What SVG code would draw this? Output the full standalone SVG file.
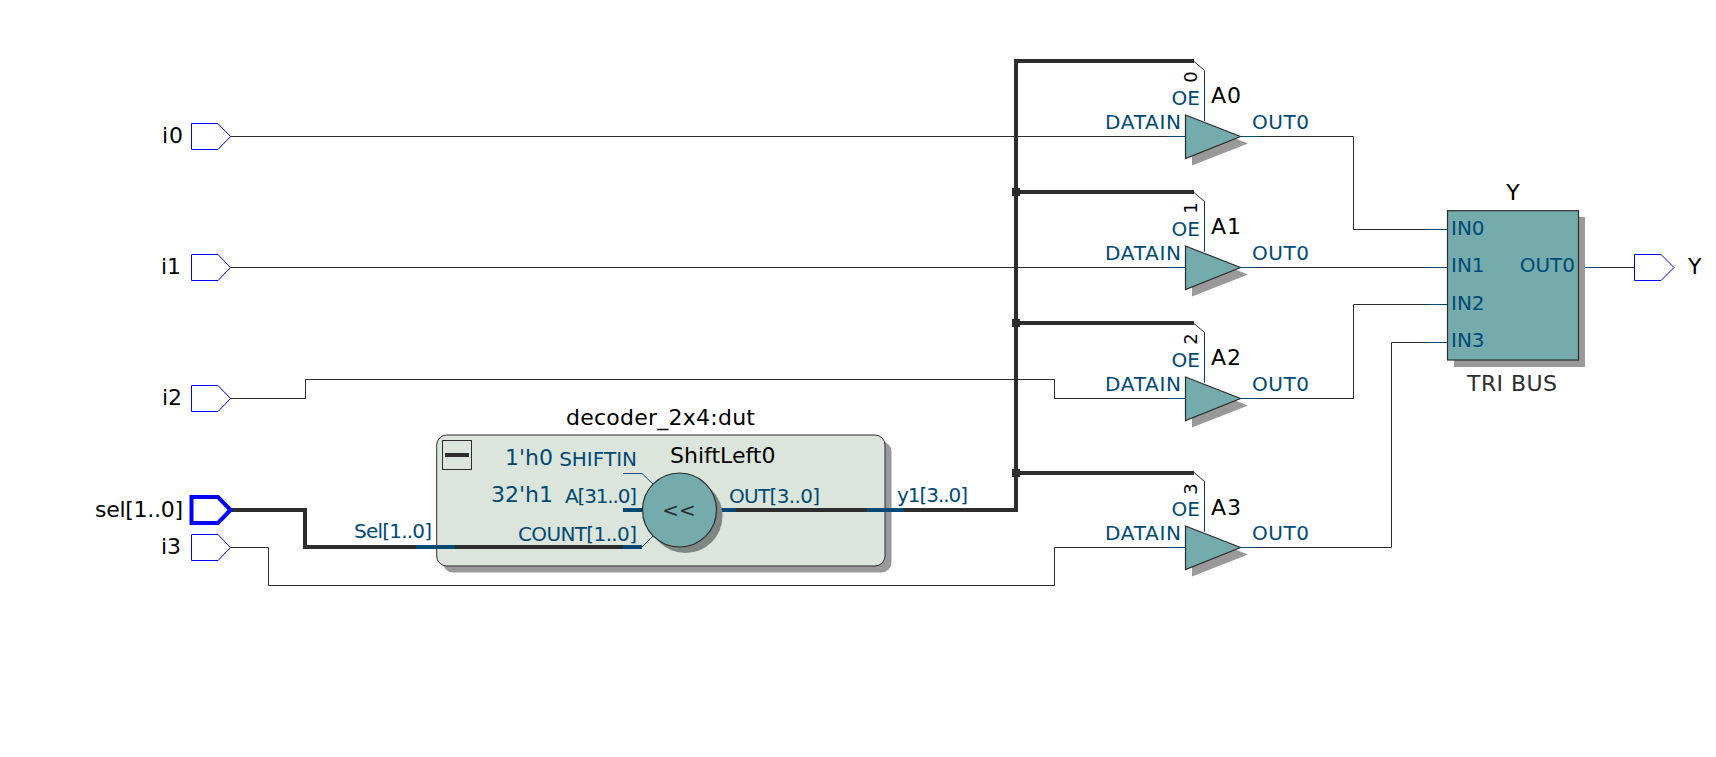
<svg xmlns="http://www.w3.org/2000/svg" width="1716" height="757" viewBox="0 0 1716 757">
<style>
text{font-family:"DejaVu Sans",sans-serif;font-size:22px;fill:#000}
.b{fill:#004975;font-size:20px}
.big{font-size:22px}
.e{text-anchor:end}
.m{text-anchor:middle}
.w{fill:none;stroke:#2d2d2d;stroke-width:1}
.t{fill:none;stroke:#2d2d2d;stroke-width:4}
.s{fill:none;stroke:#004975;stroke-width:1}
.sb{fill:none;stroke:#004975;stroke-width:4}
.pin{fill:#fff;stroke:#0000ff;stroke-width:1}
.sh{fill:#999}
.f{fill:#74abad;stroke:#2d2d2d;stroke-width:1.200}
.d{font-size:18px}
</style>
<defs>
<g id="buf">
<path class="w" d="M1204.500 -66V-16"/>
<path class="w" d="M1194 -75L1204.500 -66"/>
<path class="s" d="M1204.500 -50V-16"/>
<path class="s" d="M1166 0H1185M1241 0H1259"/>
<polygon class="sh" points="1192,-15 1248,7 1192,29"/>
<polygon class="f" points="1185.500,-21.500 1240.500,0 1185.500,22"/>
</g>
</defs>
<g id="dut-body">
<rect class="sh" x="443" y="441.500" width="448.500" height="131" rx="10"/>
<rect x="436.700" y="435" width="448.300" height="131" rx="10" fill="#dce5dc" stroke="#2d2d2d" stroke-width="1"/>
</g>
<g id="connectors">
<path class="w" d="M230 136.500H1185"/>
<path class="w" d="M230 267.500H1185"/>
<path class="w" d="M230 398.500H305.500V379.500H1054.500V398.500H1185"/>
<path class="w" d="M230 547.500H268.500V585.500H1054.500V547.500H1185"/>
<path class="w" d="M1240 136.500H1353.500V229.500H1447"/>
<path class="w" d="M1240 267.500H1447"/>
<path class="w" d="M1240 398.500H1353.500V304.500H1447"/>
<path class="w" d="M1240 547.500H1391.500V342.500H1447"/>
<path class="w" d="M1579 267.500H1634"/>
<path class="t" d="M230 510H305V547H623"/>
<path class="t" d="M716 510H1016V61H1194"/>
<path class="t" d="M1016 192H1194M1016 323H1194M1016 473H1194"/>
<rect x="1012" y="188" width="8" height="8" fill="#2d2d2d"/>
<rect x="1012" y="319" width="8" height="8" fill="#2d2d2d"/>
<rect x="1012" y="469" width="8" height="8" fill="#2d2d2d"/>
<path class="s" d="M1428 229.500H1447M1428 267.500H1447M1428 304.500H1447M1428 342.500H1447M1579 267.500H1598"/>
<path class="sb" d="M623 510H642M623 547H642M716 510H736M867 510H904M416 547H455"/>
<path class="s" d="M623 473.500H642L654 485M642 547L654 535"/>
</g>
<g id="pin-i0"><polygon class="pin" points="191.500,123.500 218,123.500 230.500,136.500 218,149.500 191.500,149.500"/><text class="e" x="183" y="143" textLength="21">i0</text></g>
<g id="pin-i1"><polygon class="pin" points="191.500,254.500 218,254.500 230.500,267.500 218,280.500 191.500,280.500"/><text class="e" x="181" y="274">i1</text></g>
<g id="pin-i2"><polygon class="pin" points="191.500,385.500 218,385.500 230.500,398.500 218,411.500 191.500,411.500"/><text class="e" x="182" y="405" textLength="20">i2</text></g>
<g id="pin-sel"><polygon class="pin" style="stroke-width:4" points="191.500,497 218,497 230.500,510 218,523 191.500,523"/><text class="e" x="183" y="517" textLength="88">sel[1..0]</text></g>
<g id="pin-i3"><polygon class="pin" points="191.500,534.500 218,534.500 230.500,547.500 218,560.500 191.500,560.500"/><text class="e" x="181" y="554">i3</text></g>
<g id="pin-Y"><polygon class="pin" points="1634.500,254.500 1661,254.500 1674,267.500 1661,280.500 1634.500,280.500"/><text x="1688" y="274">Y</text></g>
<g id="dut">
<text x="566" y="425" textLength="189">decoder_2x4:dut</text>
<rect x="442.500" y="440.500" width="29" height="29" fill="none" stroke="#2d2d2d" stroke-width="1"/>
<path d="M445 455H469" stroke="#2d2d2d" stroke-width="4"/>
<text x="670" y="463">ShiftLeft0</text>
<text class="b e big" x="553" y="465">1'h0</text>
<text class="b e big" x="553" y="502">32'h1</text>
<text class="b e" x="637" y="466">SHIFTIN</text>
<text class="b e" x="637" y="503" textLength="72">A[31..0]</text>
<text class="b e" x="637" y="541" textLength="119">COUNT[1..0]</text>
<text class="b" x="729" y="503" textLength="91">OUT[3..0]</text>
<circle cx="685.500" cy="516" r="37" fill="#7f8782"/>
<circle class="f" cx="679.500" cy="510" r="37"/>
<text class="m" x="679" y="517" style="fill:#2d2d2d;font-size:20px">&lt;&lt;</text>
</g>
<text class="b" x="354" y="538" textLength="78">Sel[1..0]</text>
<text class="b" x="897" y="502" textLength="71">y1[3..0]</text>
<g id="A0"><use href="#buf" y="136.500"/><text x="1211" y="103" textLength="30">A0</text><text class="b e" x="1200" y="105">OE</text><text class="b e" x="1181" y="129" textLength="76">DATAIN</text><text class="b" x="1252" y="129" textLength="57">OUT0</text><text transform="translate(1197 77) rotate(-90)" class="m d">0</text></g>
<g id="A1"><use href="#buf" y="267.500"/><text x="1211" y="234" textLength="30">A1</text><text class="b e" x="1200" y="236">OE</text><text class="b e" x="1181" y="260" textLength="76">DATAIN</text><text class="b" x="1252" y="260" textLength="57">OUT0</text><text transform="translate(1197 208) rotate(-90)" class="m d">1</text></g>
<g id="A2"><use href="#buf" y="398.500"/><text x="1211" y="365" textLength="30">A2</text><text class="b e" x="1200" y="367">OE</text><text class="b e" x="1181" y="391" textLength="76">DATAIN</text><text class="b" x="1252" y="391" textLength="57">OUT0</text><text transform="translate(1197 339) rotate(-90)" class="m d">2</text></g>
<g id="A3"><use href="#buf" y="547.500"/><text x="1211" y="515" textLength="30">A3</text><text class="b e" x="1200" y="516">OE</text><text class="b e" x="1181" y="540" textLength="76">DATAIN</text><text class="b" x="1252" y="540" textLength="57">OUT0</text><text transform="translate(1197 489) rotate(-90)" class="m d">3</text></g>
<g id="Y">
<rect class="sh" x="1454" y="217" width="131" height="150"/>
<rect class="f" x="1447.500" y="210.700" width="131" height="149.300"/>
<text class="m" x="1513" y="200">Y</text>
<text x="1467" y="391" textLength="90" style="fill:#2d2d2d">TRI BUS</text>
<text class="b" x="1451" y="235">IN0</text>
<text class="b" x="1451" y="272">IN1</text>
<text class="b" x="1451" y="310">IN2</text>
<text class="b" x="1451" y="347">IN3</text>
<text class="b e" x="1575" y="272">OUT0</text>
</g>
</svg>
